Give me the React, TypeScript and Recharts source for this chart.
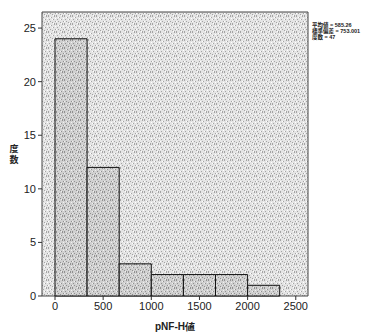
import {
  ComposedChart,
  ReferenceArea,
  XAxis,
  YAxis
} from "recharts";

// histogram bins of pNF-H (width ~333.3)
const binStarts = [0, 333.33, 666.67, 1000, 1333.33, 1666.67, 2000];
const binEnds = [333.33, 666.67, 1000, 1333.33, 1666.67, 2000, 2333.33];
const counts = [24, 12, 3, 2, 2, 2, 1];

const xTicks = [0, 500, 1000, 1500, 2000, 2500];
const yTicks = [0, 5, 10, 15, 20, 25];
const statLines = ["平均値 = 585.26", "標準偏差 = 753.001", "度数 = 47"];
const yLabelChars = ["度", "数"];

const X_MIN = -135;
const X_MAX = 2627;
const Y_MAX = 26.5;

const bins = binStarts.map((start, i) => ({ start, end: binEnds[i], count: counts[i] }));

// fixed speckle positions for the SPSS-style stipple texture
const darkDots = [
  [0, 0], [3, 1], [6, 0], [1, 3], [5, 3], [2, 5], [7, 5], [4, 6], [0, 7], [6, 7]
];
const lightDots = [[2, 1], [7, 2], [4, 3], [0, 5], [5, 7]];

const textFont = "'Liberation Sans', 'Noto Sans CJK JP', sans-serif";

export default function App() {
  return (
    <div style={{ position: "absolute", left: 0, top: 0, width: 375, height: 333, background: "#fff" }}>
      <ComposedChart
        width={375}
        height={333}
        data={bins}
        margin={{ top: 12, right: 67, bottom: 0, left: 0 }}
        style={{ fontFamily: "'Liberation Sans', Arial, sans-serif" }}
      >
        <defs>
          <pattern id="bgStipple" width={8} height={8} patternUnits="userSpaceOnUse">
            <rect width={8} height={8} fill="#e4e4e4" />
            {darkDots.map(([x, y], i) => (
              <rect key={i} x={x} y={y} width={1} height={1} fill="#a4a4a4" />
            ))}
            {lightDots.map(([x, y], i) => (
              <rect key={"l" + i} x={x} y={y} width={1} height={1} fill="#ffffff" />
            ))}
          </pattern>
          <pattern id="barStipple" width={8} height={8} patternUnits="userSpaceOnUse">
            <rect width={8} height={8} fill="#d0d0d0" />
            {darkDots.map(([x, y], i) => (
              <rect key={i} x={x} y={y} width={1} height={1} fill="#909090" />
            ))}
            {lightDots.map(([x, y], i) => (
              <rect key={"l" + i} x={x} y={y} width={1} height={1} fill="#f0f0f0" />
            ))}
          </pattern>
        </defs>
        <XAxis
          type="number"
          dataKey="start"
          domain={[X_MIN, X_MAX]}
          ticks={xTicks}
          allowDataOverflow
          height={37}
          axisLine={false}
          tickSize={4}
          tickLine={{ stroke: "#333" }}
          tick={{ fontSize: 11, fill: "#222" }}
          label={{ value: "pNF-H値", position: "insideBottom", offset: 3, fontSize: 10, fontWeight: "bold", fill: "#222" }}
        />
        <YAxis
          type="number"
          domain={[0, Y_MAX]}
          ticks={yTicks}
          allowDataOverflow
          width={42}
          axisLine={false}
          tickSize={4}
          tickLine={{ stroke: "#333" }}
          tick={{ fontSize: 11, fill: "#222" }}
        />
        <ReferenceArea
          x1={X_MIN}
          x2={X_MAX}
          y1={0}
          y2={Y_MAX}
          fill="url(#bgStipple)"
          fillOpacity={1}
          stroke="#444"
          strokeWidth={1}
        />
        {bins.map((b, i) => (
          <ReferenceArea
            key={i}
            x1={b.start}
            x2={b.end}
            y1={0}
            y2={b.count}
            fill="url(#barStipple)"
            fillOpacity={1}
            stroke="#111"
            strokeWidth={1}
          />
        ))}
        {yLabelChars.map((c, i) => (
          <text key={"y" + i} x={14} y={152 + i * 11} textAnchor="middle" fontSize={9} fontWeight="bold"
            fill="#222" fontFamily={textFont}>
            {c}
          </text>
        ))}
        {statLines.map((s, i) => (
          <text key={i} x={312} y={26.5 + i * 6.4} fontSize={5.5} fontWeight="bold" fill="#222"
            fontFamily={textFont}>
            {s}
          </text>
        ))}
      </ComposedChart>
    </div>
  );
}
